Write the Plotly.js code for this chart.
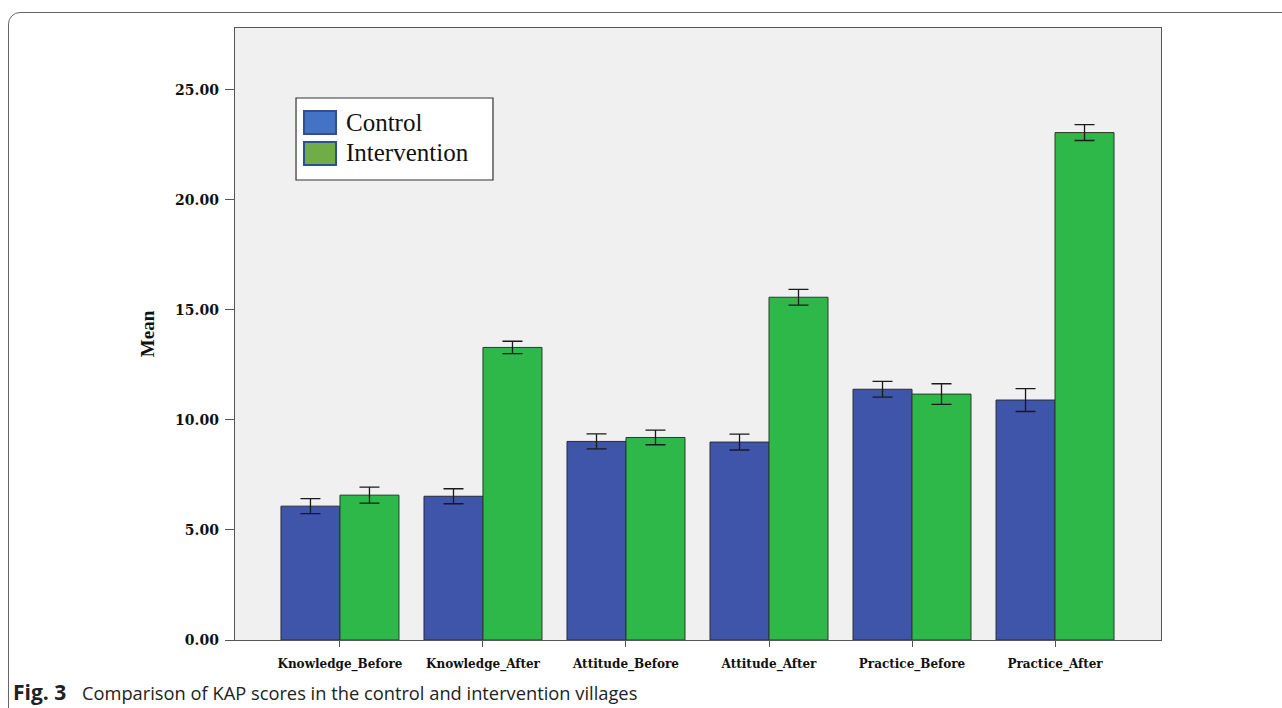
<!DOCTYPE html>
<html>
<head>
<meta charset="utf-8">
<script src="https://cdn.plot.ly/plotly-3.0.1.min.js"></script>
<style>
  html, body { margin: 0; padding: 0; background: #ffffff; width: 1282px; height: 708px; overflow: hidden; }
  #frame { position: absolute; left: 8px; top: 12px; width: 1320px; height: 740px; border: 1.3px solid #666; border-radius: 12px; }
  #chart { position: absolute; left: 0; top: 0; width: 1282px; height: 708px; }
</style>
</head>
<body>
<div id="frame"></div>
<div id="chart"></div>
<script>
const categories = ["Knowledge_Before", "Knowledge_After", "Attitude_Before", "Attitude_After", "Practice_Before", "Practice_After"];
const controlMean = [6.08, 6.53, 9.02, 8.99, 11.39, 10.90];
const controlErr = [0.34, 0.34, 0.34, 0.36, 0.36, 0.52];
const interventionMean = [6.58, 13.29, 9.20, 15.57, 11.17, 23.05];
const interventionErr = [0.36, 0.28, 0.33, 0.36, 0.47, 0.36];
const seriesNames = ["Control", "Intervention"];
const yTicks = [0, 5, 10, 15, 20, 25];

const serif = "'Liberation Serif', 'Times New Roman', serif";
const wideSerif = "'DejaVu Serif', 'Liberation Serif', serif";
const captionFont = "'Open Sans', 'Noto Sans', sans-serif";

const traces = [
  {
    type: 'bar', name: seriesNames[0], x: categories, y: controlMean,
    marker: { color: '#3E55A9', line: { color: '#2a2a3a', width: 1 } },
    error_y: { type: 'data', array: controlErr, visible: true, color: '#1a1a1a', thickness: 1.3, width: 10 },
    hoverinfo: 'skip'
  },
  {
    type: 'bar', name: seriesNames[1], x: categories, y: interventionMean,
    marker: { color: '#2EB84A', line: { color: '#2a3a2a', width: 1 } },
    error_y: { type: 'data', array: interventionErr, visible: true, color: '#1a1a1a', thickness: 1.3, width: 10 },
    hoverinfo: 'skip'
  }
];

const layout = {
  width: 1282, height: 708,
  margin: { l: 235, r: 121, t: 28, b: 68 },
  paper_bgcolor: 'rgba(0,0,0,0)',
  plot_bgcolor: '#F0F0F0',
  showlegend: false,
  barmode: 'group',
  bargap: 0.175,
  bargroupgap: 0,
  xaxis: {
    type: 'category',
    range: [-0.734, 5.741],
    showline: true, linecolor: '#555', linewidth: 1.3, mirror: true,
    ticks: 'outside', ticklen: 6, tickcolor: '#555', tickwidth: 1,
    ticklabelstandoff: 6,
    showgrid: false, zeroline: false,
    tickfont: { family: wideSerif, size: 12, color: '#111', weight: 'bold' }
  },
  yaxis: {
    range: [0, 27.8],
    tickvals: yTicks, tickformat: '.2f',
    showline: true, linecolor: '#555', linewidth: 1.3, mirror: true,
    ticks: 'outside', ticklen: 9, tickcolor: '#555', tickwidth: 1,
    ticklabelstandoff: 3,
    showgrid: false, zeroline: false,
    tickfont: { family: wideSerif, size: 14, color: '#111', weight: 'bold' },
    title: { text: 'Mean', font: { family: serif, size: 19, color: '#111', weight: 'bold' }, standoff: 15 }
  },
  shapes: [
    { type: 'rect', xref: 'paper', yref: 'paper', x0: 0.0659, x1: 0.2786, y0: 0.7516, y1: 0.8856,
      fillcolor: '#ffffff', line: { color: '#333', width: 1.2 } },
    { type: 'rect', xref: 'paper', yref: 'paper', x0: 0.0745, x1: 0.1091, y0: 0.8268, y1: 0.8644,
      fillcolor: '#4472C4', line: { color: '#2F4F8F', width: 2 } },
    { type: 'rect', xref: 'paper', yref: 'paper', x0: 0.0745, x1: 0.1091, y0: 0.7761, y1: 0.8137,
      fillcolor: '#70AD47', line: { color: '#2F4F8F', width: 2 } }
  ],
  annotations: [
    { xref: 'paper', yref: 'paper', x: 0.1177, y: 0.8464, xanchor: 'left', yanchor: 'middle', showarrow: false,
      text: seriesNames[0], font: { family: serif, size: 25, color: '#111' } },
    { xref: 'paper', yref: 'paper', x: 0.1177, y: 0.7958, xanchor: 'left', yanchor: 'middle', showarrow: false,
      text: seriesNames[1], font: { family: serif, size: 25, color: '#111' } },
    { xref: 'paper', yref: 'paper', x: -0.2420, y: -0.0855, xanchor: 'left', yanchor: 'middle', showarrow: false,
      text: '<b>Fig. 3</b>',
      font: { family: captionFont, size: 21, color: '#222' } },
    { xref: 'paper', yref: 'paper', x: -0.1670, y: -0.0855, xanchor: 'left', yanchor: 'middle', showarrow: false,
      text: 'Comparison of KAP scores in the control and intervention villages',
      font: { family: captionFont, size: 18.3, color: '#222' } }
  ]
};

Plotly.newPlot('chart', traces, layout, { displayModeBar: false, staticPlot: true });
</script>
</body>
</html>
